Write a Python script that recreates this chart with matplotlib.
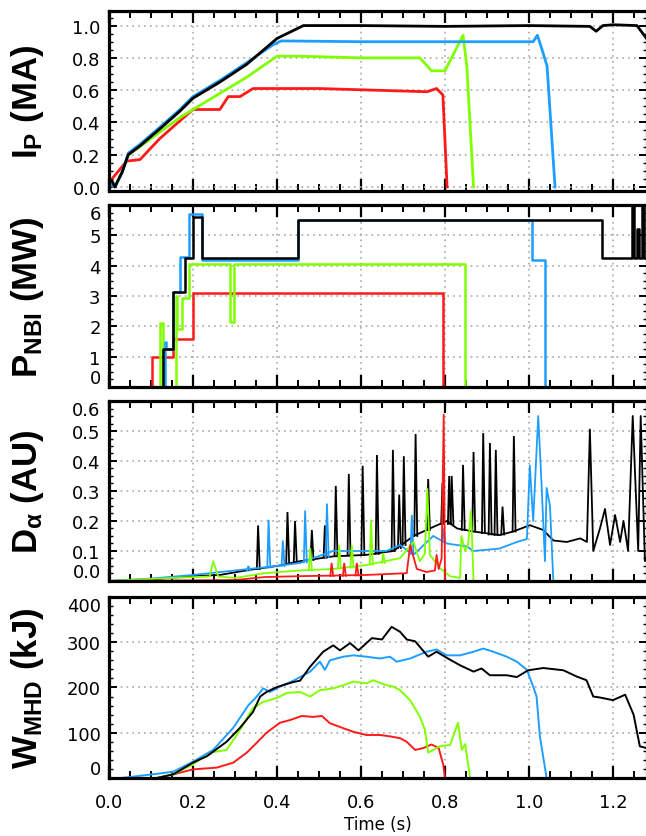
import numpy as np
import matplotlib
matplotlib.use("Agg")
import matplotlib.pyplot as plt
from matplotlib.ticker import MultipleLocator

plt.rcParams['font.family'] = ['DejaVu Sans']
plt.rcParams['mathtext.fontset'] = 'custom'
plt.rcParams['mathtext.rm'] = 'Liberation Sans:bold'
plt.rcParams['mathtext.it'] = 'Liberation Sans:bold'
plt.rcParams['mathtext.bf'] = 'Liberation Sans:bold'

RED = '#ff1a1a'
GREEN = '#80ff00'
BLUE = '#1e9eff'
BLACK = '#000000'

# ---- plasma current (MA)
black_ip_t = [0.0, 0.007, 0.014, 0.031, 0.046, 0.074, 0.121, 0.169, 0.2, 0.264, 0.328, 0.4, 0.463, 0.6, 0.8, 1.0, 1.145, 1.16, 1.176, 1.2, 1.257, 1.28]
black_ip = [0.02, 0.04, 0.0, 0.09, 0.2, 0.255, 0.36, 0.47, 0.55, 0.65, 0.76, 0.92, 1.0, 1.0, 0.995, 1.0, 0.995, 0.965, 1.0, 1.005, 1.0, 0.92]
blue_ip_t = [0.0, 0.014, 0.031, 0.046, 0.074, 0.121, 0.169, 0.2, 0.264, 0.328, 0.39, 0.41, 0.6, 0.8, 1.01, 1.02, 1.03, 1.043, 1.062]
blue_ip = [0.02, 0.0, 0.09, 0.21, 0.265, 0.37, 0.48, 0.56, 0.66, 0.77, 0.88, 0.905, 0.9, 0.9, 0.9, 0.94, 0.86, 0.75, 0.0]
green_ip_t = [0.0, 0.014, 0.031, 0.046, 0.074, 0.121, 0.169, 0.2, 0.264, 0.328, 0.4, 0.455, 0.6, 0.74, 0.768, 0.8, 0.843, 0.852, 0.868]
green_ip = [0.02, 0.0, 0.09, 0.2, 0.25, 0.34, 0.43, 0.48, 0.58, 0.68, 0.81, 0.81, 0.8, 0.8, 0.72, 0.72, 0.94, 0.75, 0.0]
red_ip_t = [0.0, 0.007, 0.042, 0.074, 0.121, 0.169, 0.2, 0.264, 0.284, 0.312, 0.343, 0.5, 0.757, 0.78, 0.795, 0.805]
red_ip = [0.02, 0.05, 0.16, 0.17, 0.30, 0.41, 0.48, 0.48, 0.56, 0.56, 0.61, 0.61, 0.59, 0.61, 0.57, 0.0]

# ---- NBI power (MW), step levels
black_nbi_t = [0.0, 0.129, 0.152, 0.181, 0.2, 0.221, 0.45, 1.173, 1.246, 1.25, 1.258, 1.262, 1.27, 1.274, 1.28]
black_nbi = [0.0, 1.25, 3.15, 4.25, 5.6, 4.25, 5.5, 4.25, 6.2, 4.25, 5.2, 4.25, 6.2, 4.25, 4.25]
blue_nbi_t = [0.0, 0.133, 0.136, 0.152, 0.169, 0.19, 0.221, 0.45, 1.007, 1.038, 1.28]
blue_nbi = [0.0, 1.5, 1.25, 3.15, 4.3, 5.7, 4.2, 5.5, 4.2, 0.0, 0.0]
green_nbi_t = [0.0, 0.121, 0.129, 0.16, 0.163, 0.173, 0.19, 0.287, 0.297, 0.848, 1.28]
green_nbi = [0.0, 2.1, 0.0, 3.0, 1.9, 2.95, 4.05, 2.15, 4.05, 0.0, 0.0]
red_nbi_t = [0.0, 0.102, 0.153, 0.2, 0.796, 1.28]
red_nbi = [0.0, 1.0, 1.58, 3.1, 0.0, 0.0]

# ---- D-alpha (AU): slow trace + ELM spikes (t, base, peak)
black_da_t = [0.0, 0.1, 0.2, 0.264, 0.33, 0.4, 0.455, 0.534, 0.613, 0.677, 0.725, 0.772, 0.804, 0.829, 0.868, 0.93, 0.963, 1.002, 1.034, 1.058, 1.09, 1.122, 1.138, 1.145, 1.153, 1.169, 1.181, 1.193, 1.205, 1.217, 1.225, 1.236, 1.247, 1.26, 1.266, 1.276, 1.28]
black_da = [0.0, 0.005, 0.016, 0.02, 0.036, 0.05, 0.066, 0.082, 0.087, 0.1, 0.15, 0.18, 0.2, 0.175, 0.165, 0.153, 0.165, 0.186, 0.17, 0.135, 0.13, 0.142, 0.13, 0.505, 0.1, 0.175, 0.24, 0.12, 0.22, 0.13, 0.2, 0.1, 0.55, 0.1, 0.55, 0.066, 0.08]
black_spikes = [(0.355, 0.04, 0.185), (0.425, 0.06, 0.23), (0.443, 0.065, 0.2), (0.483, 0.07, 0.17),
                (0.514, 0.078, 0.185), (0.54, 0.083, 0.317), (0.571, 0.085, 0.357), (0.604, 0.087, 0.384),
                (0.638, 0.09, 0.42), (0.676, 0.1, 0.437), (0.691, 0.11, 0.288), (0.702, 0.12, 0.416),
                (0.73, 0.15, 0.49), (0.76, 0.17, 0.34), (0.794, 0.19, 0.327), (0.81, 0.19, 0.35),
                (0.816, 0.19, 0.35), (0.843, 0.17, 0.387), (0.868, 0.165, 0.43), (0.891, 0.16, 0.493),
                (0.907, 0.155, 0.46), (0.921, 0.153, 0.437), (0.937, 0.155, 0.248), (0.964, 0.165, 0.483)]
blue_da_t = [0.0, 0.1, 0.2, 0.3, 0.4, 0.455, 0.534, 0.613, 0.661, 0.693, 0.725, 0.772, 0.804, 0.852, 0.868, 0.93, 0.971, 0.995, 1.002, 1.01, 1.022, 1.03, 1.038, 1.042, 1.05, 1.058, 1.28]
blue_da = [0.0, 0.008, 0.02, 0.035, 0.05, 0.06, 0.1, 0.1, 0.1, 0.12, 0.087, 0.15, 0.125, 0.115, 0.1, 0.108, 0.13, 0.14, 0.385, 0.2, 0.55, 0.32, 0.066, 0.31, 0.25, 0.0, 0.0]
blue_spikes = [(0.332, 0.035, 0.05), (0.38, 0.045, 0.204), (0.414, 0.05, 0.135), (0.467, 0.062, 0.235),
               (0.519, 0.08, 0.258), (0.721, 0.09, 0.22), (0.797, 0.13, 0.175)]
green_da_t = [0.0, 0.15, 0.24, 0.248, 0.26, 0.3, 0.37, 0.455, 0.534, 0.613, 0.693, 0.725, 0.74, 0.752, 0.758, 0.764, 0.788, 0.812, 0.836, 0.839, 0.848, 0.855, 0.862, 0.868, 1.28]
green_da = [0.0, 0.01, 0.015, 0.066, 0.015, 0.01, 0.026, 0.035, 0.04, 0.053, 0.076, 0.13, 0.066, 0.09, 0.307, 0.087, 0.043, 0.016, 0.01, 0.15, 0.1, 0.12, 0.235, 0.0, 0.0]
green_spikes = [(0.479, 0.036, 0.11), (0.548, 0.042, 0.12), (0.578, 0.045, 0.12), (0.624, 0.055, 0.204), (0.653, 0.06, 0.093)]
red_da_t = [0.0, 0.3, 0.37, 0.455, 0.613, 0.709, 0.717, 0.733, 0.756, 0.776, 0.78, 0.785, 0.792, 0.797, 0.8, 1.28]
red_da = [0.0, 0.003, 0.013, 0.016, 0.02, 0.026, 0.12, 0.04, 0.03, 0.035, 0.087, 0.04, 0.076, 0.555, 0.0, 0.0]
red_spikes = [(0.53, 0.016, 0.06), (0.56, 0.017, 0.06), (0.59, 0.018, 0.06)]

# ---- stored energy (kJ)
black_w_t = [0.114, 0.153, 0.2, 0.233, 0.28, 0.312, 0.343, 0.36, 0.375, 0.4, 0.439, 0.455, 0.479, 0.51, 0.534, 0.55, 0.574, 0.594, 0.626, 0.65, 0.673, 0.693, 0.709, 0.729, 0.76, 0.78, 0.807, 0.836, 0.868, 0.887, 0.907, 0.947, 0.971, 0.998, 1.034, 1.082, 1.114, 1.137, 1.153, 1.168, 1.2, 1.229, 1.249, 1.264, 1.28]
black_w = [0, 8, 34, 48, 80, 111, 146, 180, 190, 201, 212, 215, 246, 279, 293, 282, 298, 282, 309, 306, 334, 323, 306, 302, 268, 279, 264, 249, 235, 242, 227, 227, 223, 238, 243, 238, 224, 216, 180, 178, 172, 184, 140, 70, 66]
blue_w_t = [0.03, 0.121, 0.153, 0.2, 0.248, 0.296, 0.332, 0.352, 0.367, 0.383, 0.414, 0.439, 0.479, 0.502, 0.514, 0.526, 0.558, 0.582, 0.613, 0.645, 0.669, 0.685, 0.717, 0.756, 0.78, 0.804, 0.836, 0.868, 0.891, 0.915, 0.947, 0.971, 0.995, 1.01, 1.018, 1.026, 1.042]
blue_w = [0, 10, 14, 36, 62, 111, 161, 180, 198, 190, 205, 215, 235, 257, 239, 260, 268, 271, 268, 264, 268, 257, 264, 279, 284, 271, 271, 279, 286, 279, 268, 257, 239, 202, 180, 92, 0]
green_w_t = [0.114, 0.153, 0.2, 0.24, 0.28, 0.312, 0.343, 0.367, 0.4, 0.424, 0.455, 0.479, 0.502, 0.534, 0.558, 0.582, 0.613, 0.629, 0.661, 0.677, 0.693, 0.717, 0.74, 0.752, 0.76, 0.772, 0.788, 0.812, 0.831, 0.84, 0.848, 0.86]
green_w = [0, 8, 30, 56, 62, 106, 155, 168, 177, 188, 190, 180, 194, 198, 205, 213, 209, 216, 205, 202, 194, 172, 136, 107, 56, 62, 70, 73, 122, 62, 75, 0]
red_w_t = [0.114, 0.153, 0.2, 0.257, 0.296, 0.328, 0.352, 0.375, 0.407, 0.431, 0.459, 0.486, 0.507, 0.526, 0.558, 0.582, 0.613, 0.645, 0.669, 0.693, 0.709, 0.729, 0.748, 0.768, 0.785, 0.796, 0.8]
red_w = [0, 8, 19, 23, 34, 56, 78, 100, 122, 128, 137, 135, 137, 121, 110, 102, 95, 95, 92, 88, 80, 62, 66, 74, 66, 29, 0]

ip_ticks = [0.0, 0.2, 0.4, 0.6, 0.8, 1.0]
nbi_ticks = [0, 1, 2, 3, 4, 5, 6]
da_ticks = [0.0, 0.1, 0.2, 0.3, 0.4, 0.5, 0.6]
w_ticks = [0, 100, 200, 300, 400]
time_ticks = [0.0, 0.2, 0.4, 0.6, 0.8, 1.0, 1.2]

fig = plt.figure(figsize=(6.46, 8.37), dpi=100)
left, width = 0.1687, 0.8322
ax1 = fig.add_axes([left, 0.7706, width, 0.2150])
ax2 = fig.add_axes([left, 0.5364, width, 0.2174])
ax3 = fig.add_axes([left, 0.3047, width, 0.2150])
ax4 = fig.add_axes([left, 0.0693, width, 0.2163])


def spikes(ax, sp, c, lw):
    for t, b, p in sp:
        ax.plot([t - 0.003, t, t + 0.004], [b, p, b], color=c, lw=lw, solid_joinstyle='miter')


# Ip
for t, v, c in [(red_ip_t, red_ip, RED), (green_ip_t, green_ip, GREEN),
                (blue_ip_t, blue_ip, BLUE), (black_ip_t, black_ip, BLACK)]:
    ax1.plot(t, v, color=c, lw=2.0)

# NBI
for t, v, c in [(red_nbi_t, red_nbi, RED), (green_nbi_t, green_nbi, GREEN),
                (blue_nbi_t, blue_nbi, BLUE), (black_nbi_t, black_nbi, BLACK)]:
    ax2.plot(t, v, color=c, lw=1.8, drawstyle='steps-post')

# D alpha
for t, v, sp, c in [(black_da_t, black_da, black_spikes, BLACK), (blue_da_t, blue_da, blue_spikes, BLUE),
                    (green_da_t, green_da, green_spikes, GREEN), (red_da_t, red_da, red_spikes, RED)]:
    ax3.plot(t, v, color=c, lw=1.3)
    spikes(ax3, sp, c, 1.3)

# W_MHD
for t, v, c in [(red_w_t, red_w, RED), (green_w_t, green_w, GREEN),
                (blue_w_t, blue_w, BLUE), (black_w_t, black_w, BLACK)]:
    ax4.plot(t, v, color=c, lw=1.4)

setup = [
    (ax1, (-0.025, 1.09), ip_ticks, 0.05, ['0.0', '0.2', '0.4', '0.6', '0.8', '1.0'], r'$\mathbf{I_P}$ (MA)'),
    (ax2, (0, 6), nbi_ticks, 0.25, [str(n) for n in nbi_ticks], r'$\mathbf{P_{NBI}}$ (MW)'),
    (ax3, (0, 0.6), da_ticks, 0.025, ['0.0', '0.1', '0.2', '0.3', '0.4', '0.5', '0.6'], r'$\mathbf{D_{\alpha}}$ (AU)'),
    (ax4, (0, 400), w_ticks, 20, [str(n) for n in w_ticks], r'$\mathbf{W_{MHD}}$ (kJ)'),
]

for ax, ylim, yt, ymin, ylab, name in setup:
    ax.set_xlim(0, 1.28)
    ax.set_ylim(*ylim)
    ax.set_xticks(time_ticks)
    ax.xaxis.set_minor_locator(MultipleLocator(0.05))
    ax.set_yticks(yt)
    ax.set_yticklabels(ylab)
    ax.yaxis.set_minor_locator(MultipleLocator(ymin))
    ax.grid(True, which='major', ls=(0, (1, 2.5)), color='#a8a8a8', lw=1.2)
    ax.tick_params(axis='x', which='major', direction='in', length=8.5, width=1.6, top=True, bottom=True)
    ax.tick_params(axis='x', which='minor', direction='in', length=5, width=1.4, top=True, bottom=True)
    ax.tick_params(axis='y', which='major', direction='in', length=6, width=1.4, left=True, right=True,
                   labelsize=13, pad=6)
    ax.tick_params(axis='y', which='minor', direction='in', length=3, width=1.0, left=True, right=True)
    for s in ax.spines.values():
        s.set_linewidth(2.3)
    ax.set_ylabel(name, fontsize=25, fontweight='bold', family='Liberation Sans', va='center')
    ax.yaxis.set_label_coords(-0.152, 0.5)
    if ax is not ax4:
        ax.tick_params(axis='x', labelbottom=False)

# IDL style: outer y labels pulled inside the frame
for ax in [ax2, ax3, ax4]:
    lbls = ax.get_yticklabels()
    lbls[-1].set_verticalalignment('top')
    lbls[0].set_verticalalignment('bottom')

ax4.tick_params(axis='x', labelsize=13, pad=11)
ax4.set_xticklabels(['0.0', '0.2', '0.4', '0.6', '0.8', '1.0', '1.2'])
ax4.set_xlabel('Time (s)', fontsize=12, labelpad=3)

fig.savefig('out.png', dpi=100)
